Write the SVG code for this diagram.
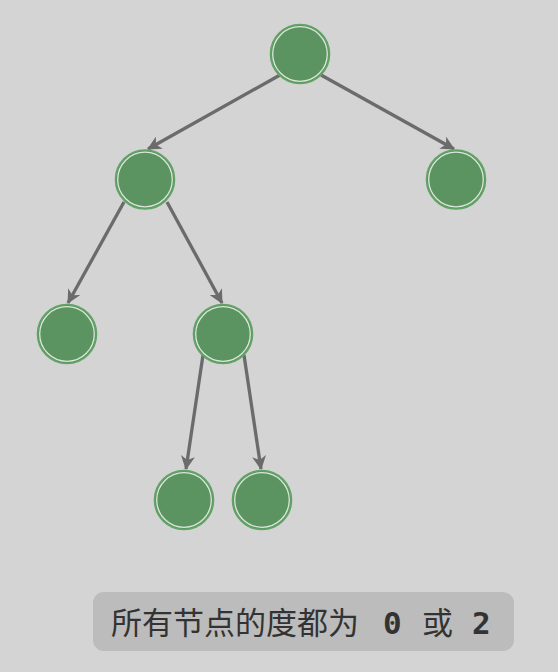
<svg xmlns="http://www.w3.org/2000/svg" width="558" height="672" viewBox="0 0 558 672">
<style>
.edge{stroke:#6b6b6b;stroke-width:3.3;fill:none;marker-end:url(#ah)}
.node .body{fill:#5b9460;stroke:#62a466;stroke-width:1.6}
.node .ring{fill:none;stroke:#dae6da;stroke-width:1.3}
.cjk{font-family:"Noto Sans CJK SC","Noto Sans",sans-serif;font-size:31px;fill:#333}
.num{font-family:"DejaVu Sans Mono","Liberation Mono",monospace;font-weight:bold;font-size:31px;fill:#333}
</style>
<defs>
<marker id="ah" viewBox="0 0 14 14" refX="13" refY="7" markerWidth="14" markerHeight="14" markerUnits="userSpaceOnUse" orient="auto">
<path d="M0,0 L14,7 L0,14 L4,7 Z" fill="#6b6b6b"/>
</marker>
</defs>
<rect width="558" height="672" fill="#d4d4d4"/>
<g id="connectors">
<line class="edge" x1="280" y1="75" x2="148" y2="149"/>
<line class="edge" x1="321" y1="75" x2="454" y2="149"/>
<line class="edge" x1="124" y1="202" x2="68" y2="303"/>
<line class="edge" x1="167" y1="202" x2="222" y2="303"/>
<line class="edge" x1="203" y1="355" x2="186" y2="469"/>
<line class="edge" x1="244" y1="355" x2="261" y2="469"/>
</g>
<g id="n1" class="node"><circle class="body" cx="300" cy="54" r="29.5"/><circle class="ring" cx="300" cy="54" r="27.3"/></g>
<g id="n2" class="node"><circle class="body" cx="145" cy="179.5" r="29.5"/><circle class="ring" cx="145" cy="179.5" r="27.3"/></g>
<g id="n3" class="node"><circle class="body" cx="456" cy="179.5" r="29.5"/><circle class="ring" cx="456" cy="179.5" r="27.3"/></g>
<g id="n4" class="node"><circle class="body" cx="67" cy="334" r="29.5"/><circle class="ring" cx="67" cy="334" r="27.3"/></g>
<g id="n5" class="node"><circle class="body" cx="223" cy="334" r="29.5"/><circle class="ring" cx="223" cy="334" r="27.3"/></g>
<g id="n6" class="node"><circle class="body" cx="184" cy="500" r="29.5"/><circle class="ring" cx="184" cy="500" r="27.3"/></g>
<g id="n7" class="node"><circle class="body" cx="262" cy="500" r="29.5"/><circle class="ring" cx="262" cy="500" r="27.3"/></g>
<g id="label">
<rect x="93" y="592" width="421" height="59" rx="11" fill="#bcbcbc"/>
<text y="634"><tspan class="cjk" x="111">所有节点的度都为</tspan><tspan class="num" x="383">0</tspan><tspan class="cjk" x="422">或</tspan><tspan class="num" x="472">2</tspan></text>
</g>
</svg>
